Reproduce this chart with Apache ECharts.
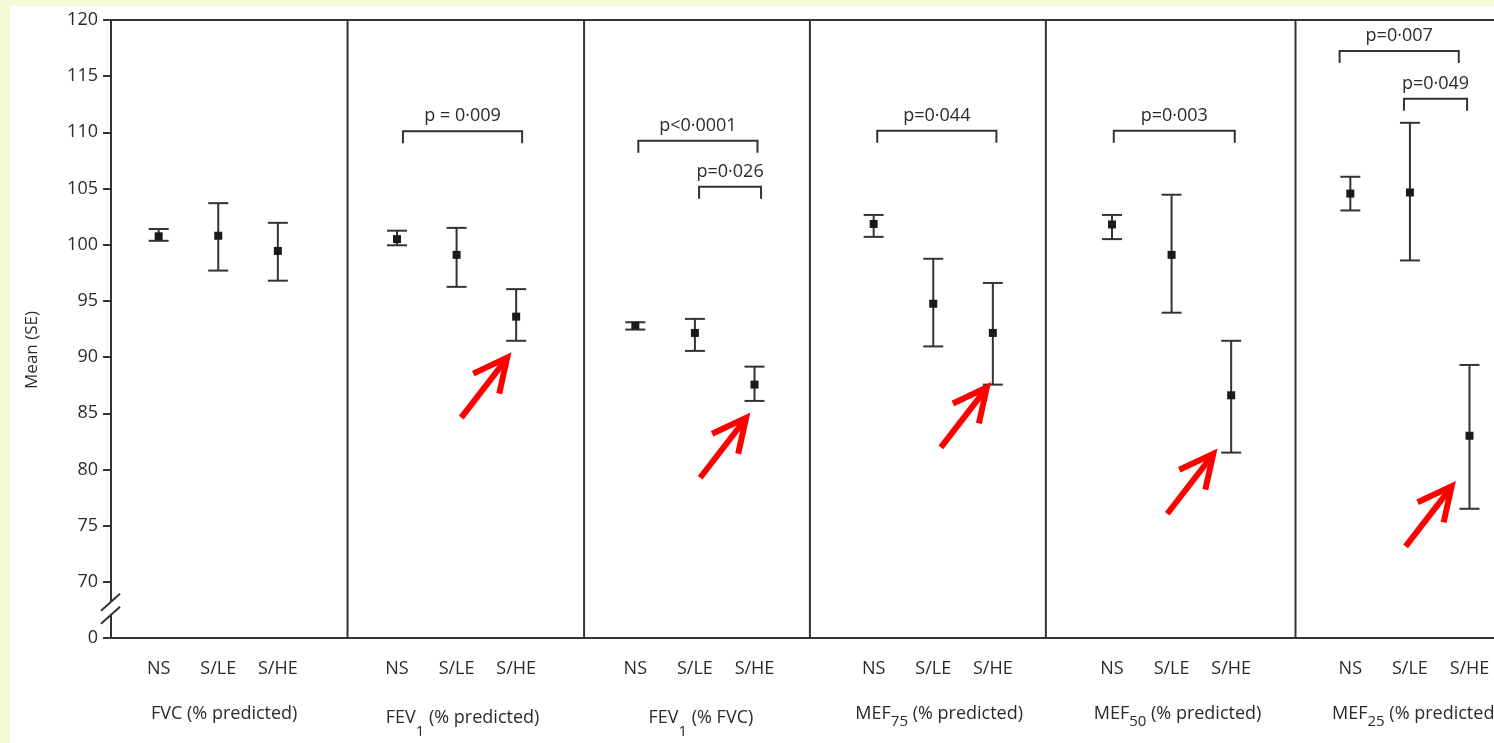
<!DOCTYPE html>
<html><head><meta charset="utf-8">
<script src="https://cdn.jsdelivr.net/npm/echarts@6/dist/echarts.min.js"></script>
<style>
html,body{margin:0;padding:0;background:#F3FAD6;width:1494px;height:743px;overflow:hidden}
#c{position:absolute;left:10px;top:6px;width:1484px;height:737px;background:#fff}
</style></head><body><div id="c"></div>
<script>
// ---------- data ----------
const groups = ['NS', 'S/LE', 'S/HE'];
const panelNames = ['FVC', 'FEV', 'FEV', 'MEF', 'MEF', 'MEF'];
const panelSubs = ['', '1', '1', '75', '50', '25'];
const panelUnits = ['(% predicted)', '(% predicted)', '(% FVC)', '(% predicted)', '(% predicted)', '(% predicted)'];
const panelSubKind = ['', 'deep', 'deep', 'shallow', 'shallow', 'shallow'];

const meanFVC    = [100.75, 100.8, 99.45];
const meanFEV1   = [100.5, 99.1, 93.6];
const meanFEV1r  = [92.8, 92.15, 87.55];
const meanMEF75  = [101.85, 94.75, 92.15];
const meanMEF50  = [101.8, 99.1, 86.6];
const meanMEF25  = [104.55, 104.65, 83.0];

const upperFVC   = [101.4, 103.7, 101.95];
const upperFEV1  = [101.25, 101.5, 96.05];
const upperFEV1r = [93.1, 93.4, 89.15];
const upperMEF75 = [102.65, 98.75, 96.6];
const upperMEF50 = [102.65, 104.45, 91.45];
const upperMEF25 = [106.05, 110.85, 89.3];

const lowerFVC   = [100.35, 97.7, 96.8];
const lowerFEV1  = [99.95, 96.25, 91.45];
const lowerFEV1r = [92.45, 90.55, 86.1];
const lowerMEF75 = [100.7, 90.95, 87.55];
const lowerMEF50 = [100.5, 93.95, 81.5];
const lowerMEF25 = [103.05, 98.6, 76.5];

// significance brackets
const bracketPanel = [1, 2, 2, 3, 4, 5, 5];
const bracketFrom  = [0, 0, 1, 0, 0, 0, 1];
const bracketTo    = [2, 2, 2, 2, 2, 2, 2];
const bracketShiftA = [0.1, 0.05, 0.07, 0.06, 0.03, -0.18, -0.1];
const bracketShiftB = [0.1, 0.05, 0.11, 0.06, 0.06, -0.18, -0.04];
const bracketY     = [110.1, 109.25, 105.15, 110.15, 110.15, 117.25, 113.0];
const bracketText  = ['p = 0·009', 'p<0·0001', 'p=0·026', 'p=0·044', 'p=0·003', 'p=0·007', 'p=0·049'];

// red arrows pointing at the S/HE groups
const arrowPanel = [1, 2, 3, 4, 5];
const arrowTipY  = [89.95, 84.6, 87.3, 81.4, 78.5];
const arrowTipDx = [-0.15, -0.14, -0.1, -0.3, -0.3];

// panel separators (x-axis units) and y-axis ticks
const panelEdges = [3.97, 7.94, 11.73, 15.69, 19.88];
const yTickMin = 65, yTickMax = 120, yTickStep = 5;
const breakY = 67.6;

// ---------- build ----------
const means  = [meanFVC, meanFEV1, meanFEV1r, meanMEF75, meanMEF50, meanMEF25];
const uppers = [upperFVC, upperFEV1, upperFEV1r, upperMEF75, upperMEF50, upperMEF25];
const lowers = [lowerFVC, lowerFEV1, lowerFEV1r, lowerMEF75, lowerMEF50, lowerMEF25];
const OFF = 0.8;
const posOf = (p, k) => p * 4 + k + OFF;

const errData = [];
means.forEach((m, p) => m.forEach((v, k) => errData.push([posOf(p, k), v, lowers[p][k], uppers[p][k]])));
const catPositions = [];
for (let p = 0; p < 6; p++) for (let k = 0; k < 3; k++) catPositions.push(posOf(p, k));
const titlePositions = panelNames.map((n, p) => posOf(p, 1) + 0.1);
const bracketData = bracketPanel.map((p, i) => [posOf(p, bracketFrom[i]) + bracketShiftA[i], posOf(p, bracketTo[i]) + bracketShiftB[i], bracketY[i], i]);
const arrowData = arrowPanel.map((p, i) => [posOf(p, 2) + arrowTipDx[i], arrowTipY[i]]);
const edgeData = panelEdges.map(x => [x, yTickMax, yTickMin]);

const FONT = '"Open Sans", "Noto Sans", sans-serif';
const INK = '#333';
const TXT = '#2a2a2a';

function titleRich(p) {
  const kind = panelSubKind[p];
  if (!kind) return '{n|' + panelNames[p] + ' ' + panelUnits[p] + '}';
  const m = kind === 'deep' ? 'nd' : 'n';
  const s = kind === 'deep' ? 'sd' : 'ss';
  return '{' + m + '|' + panelNames[p] + '}{' + s + '|' + panelSubs[p] + '}{' + m + '| ' + panelUnits[p] + '}';
}

const chart = echarts.init(document.getElementById('c'));
chart.setOption({
  animation: false,
  textStyle: { fontFamily: FONT },
  grid: { left: 101, top: 14, width: 1430, height: 618, outerBoundsMode: 'none', containLabel: false,
          show: true, borderColor: INK, borderWidth: 2, backgroundColor: '#fff' },
  xAxis: [{
    type: 'value', min: 0, max: 24, interval: 4, position: 'bottom',
    axisLine: { show: true, onZero: false, lineStyle: { color: INK, width: 2 } },
    axisTick: { show: false }, splitLine: { show: false },
    axisLabel: {
      customValues: catPositions, margin: 22, fontSize: 18, color: TXT, fontFamily: FONT,
      formatter: v => groups[Math.round(v - OFF) % 4]
    }
  }, {
    type: 'value', min: 0, max: 24, position: 'bottom', offset: 46,
    axisLine: { show: false }, axisTick: { show: false }, splitLine: { show: false },
    axisLabel: {
      customValues: titlePositions, margin: 21, fontSize: 18, color: TXT, fontFamily: FONT,
      verticalAlign: 'top',
      formatter: v => titleRich(Math.floor(v / 4)),
      rich: {
        n:  { fontSize: 18, color: TXT, fontFamily: FONT, verticalAlign: 'top', lineHeight: 22 },
        nd: { fontSize: 18, color: TXT, fontFamily: FONT, verticalAlign: 'top', lineHeight: 22, padding: [4, 0, 0, 0] },
        sd: { fontSize: 15, color: TXT, fontFamily: FONT, verticalAlign: 'top', lineHeight: 18, padding: [19, 0, 0, 0] },
        ss: { fontSize: 15, color: TXT, fontFamily: FONT, verticalAlign: 'top', lineHeight: 18, padding: [9, 0, 0, 0] }
      }
    }
  }],
  yAxis: {
    type: 'value', min: yTickMin, max: yTickMax, interval: yTickStep,
    axisLine: { show: true, onZero: false, lineStyle: { color: INK, width: 2 } },
    axisTick: { show: true, length: 8, lineStyle: { color: INK, width: 2 } },
    splitLine: { show: false },
    axisLabel: { margin: 13, fontSize: 18, color: TXT, fontFamily: FONT, formatter: v => v === yTickMin ? '0' : String(v) }
  },
  graphic: [{
    type: 'text', left: 14, top: 305, rotation: Math.PI / 2,
    style: { text: 'Mean (SE)', fontSize: 17, fill: TXT, fontFamily: FONT }
  }],
  series: [{
    type: 'custom', name: 'edges', data: edgeData, encode: { x: 0, y: [1, 2] }, z: 1,
    renderItem: (params, api) => {
      const a = api.coord([api.value(0), api.value(1)]);
      const b = api.coord([api.value(0), api.value(2)]);
      return { type: 'line', shape: { x1: a[0], y1: a[1], x2: b[0], y2: b[1] }, style: { stroke: INK, lineWidth: 2 } };
    }
  }, {
    type: 'custom', name: 'break', data: [[0, breakY]], encode: { x: 0, y: 1 }, clip: false, z: 3,
    renderItem: (params, api) => {
      const c = api.coord([api.value(0), api.value(1)]);
      const x = c[0], y = c[1];
      return { type: 'group', children: [
        { type: 'polygon', shape: { points: [[x - 10, y + 2], [x + 10, y - 16], [x + 10, y - 3], [x - 10, y + 15]] }, style: { fill: '#fff' } },
        { type: 'line', shape: { x1: x - 10, y1: y + 2, x2: x + 9, y2: y - 15 }, style: { stroke: INK, lineWidth: 2 } },
        { type: 'line', shape: { x1: x - 10, y1: y + 15, x2: x + 9, y2: y - 2 }, style: { stroke: INK, lineWidth: 2 } }
      ] };
    }
  }, {
    type: 'custom', name: 'errors', data: errData, encode: { x: 0, y: [1, 2, 3] }, z: 4,
    renderItem: (params, api) => {
      const m = api.coord([api.value(0), api.value(1)]);
      const lo = api.coord([api.value(0), api.value(2)]);
      const hi = api.coord([api.value(0), api.value(3)]);
      const x = m[0], cw = 10, s = 8;
      const st = { stroke: INK, lineWidth: 2 };
      return { type: 'group', children: [
        { type: 'line', shape: { x1: x, y1: hi[1], x2: x, y2: lo[1] }, style: st },
        { type: 'line', shape: { x1: x - cw, y1: hi[1], x2: x + cw, y2: hi[1] }, style: st },
        { type: 'line', shape: { x1: x - cw, y1: lo[1], x2: x + cw, y2: lo[1] }, style: st },
        { type: 'rect', shape: { x: x - s / 2, y: m[1] - s / 2, width: s, height: s }, style: { fill: '#1a1a1a' } }
      ] };
    }
  }, {
    type: 'custom', name: 'brackets', data: bracketData, encode: { x: [0, 1], y: 2 }, z: 4,
    renderItem: (params, api) => {
      const a = api.coord([api.value(0), api.value(2)]);
      const b = api.coord([api.value(1), api.value(2)]);
      const i = api.value(3);
      return { type: 'group', children: [
        { type: 'polyline', shape: { points: [[a[0], a[1] + 12], a, b, [b[0], b[1] + 12]] }, style: { stroke: INK, lineWidth: 2, fill: null } },
        { type: 'text', x: (a[0] + b[0]) / 2, y: a[1] - 15,
          style: { text: bracketText[i], fontSize: 18, fill: TXT, fontFamily: FONT, align: 'center', verticalAlign: 'middle' } }
      ] };
    }
  }, {
    type: 'custom', name: 'arrows', data: arrowData, encode: { x: 0, y: 1 }, z: 5,
    renderItem: (params, api) => {
      const t = api.coord([api.value(0), api.value(1)]);
      const st = { stroke: '#ff0000', lineWidth: 6, fill: null, lineJoin: 'miter' };
      return { type: 'group', children: [
        { type: 'line', shape: { x1: t[0] - 46, y1: t[1] + 60, x2: t[0] - 2, y2: t[1] + 3 }, style: st },
        { type: 'polyline', shape: { points: [[t[0] - 34, t[1] + 16], t, [t[0] - 8, t[1] + 36]] }, style: st }
      ] };
    }
  }]
});
</script></body></html>
